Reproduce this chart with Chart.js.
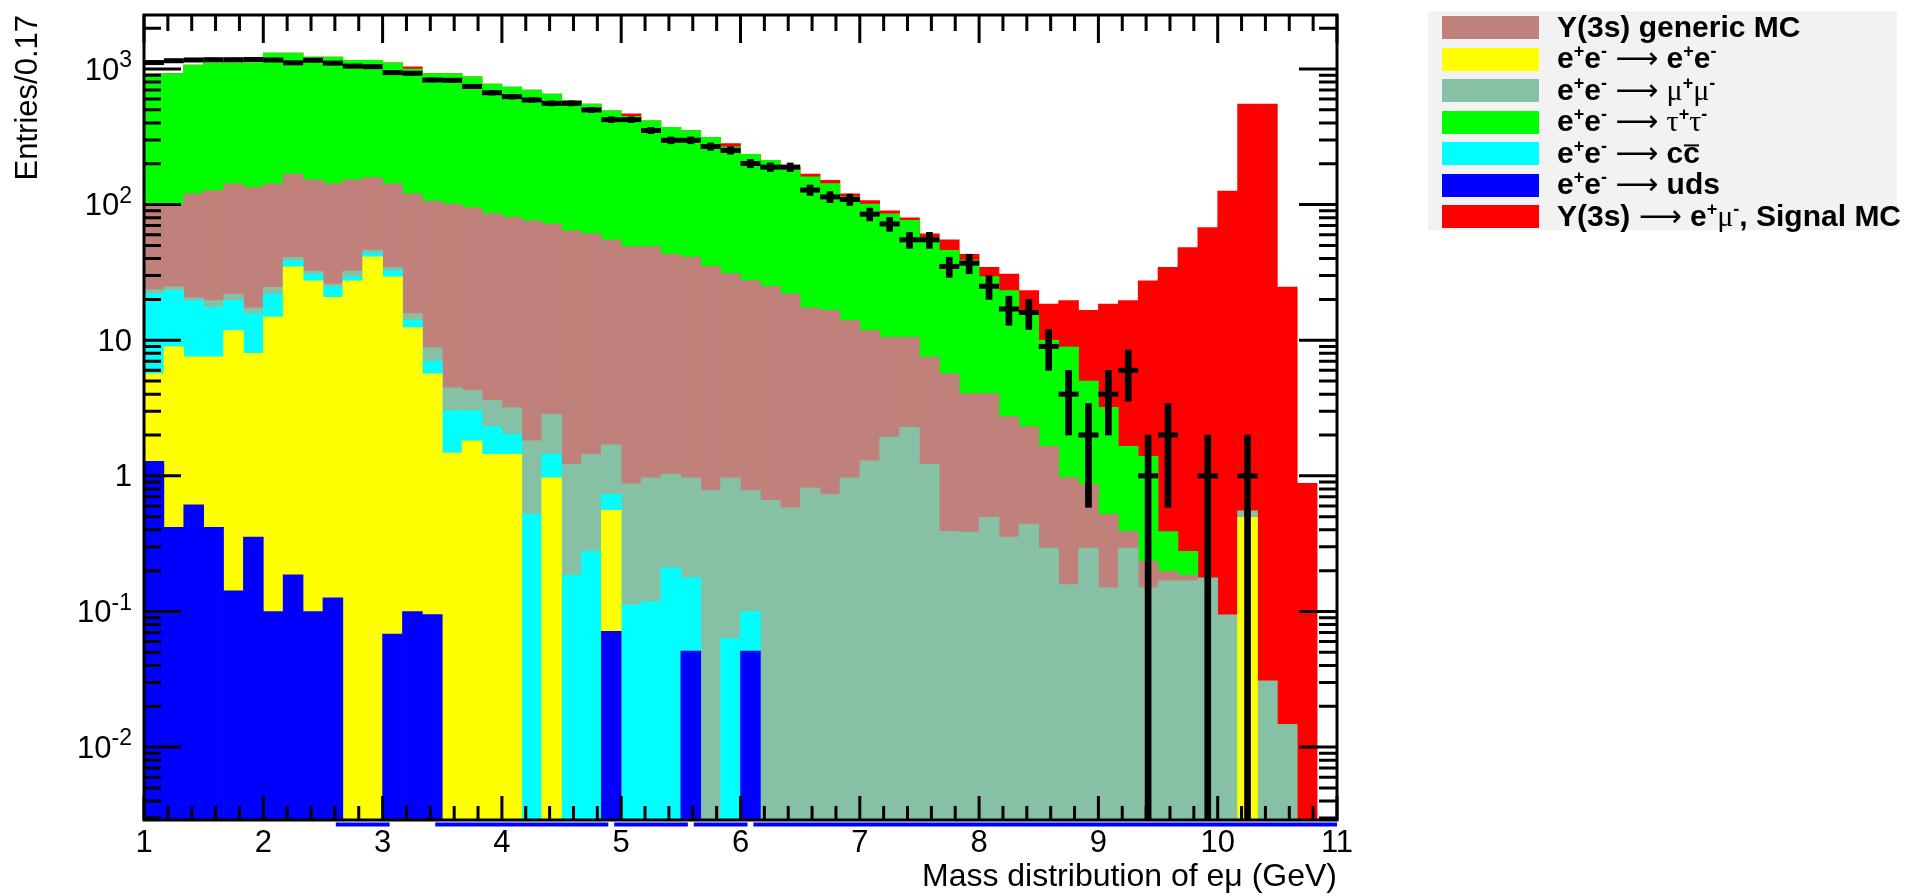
<!DOCTYPE html>
<html>
<head>
<meta charset="utf-8">
<script src="https://cdn.jsdelivr.net/npm/chart.js@4.4.1/dist/chart.umd.min.js"></script>
<style>
  body { margin: 0; background: #fff; }
  #marco { position: relative; width: 1906px; height: 896px; }
  #leyenda {
    position: absolute; left: 1428px; top: 11px; width: 469px; height: 219px;
    background: #f2f2f2;
    font: bold 30px "Liberation Sans", Arial, sans-serif; color: #000;
  }
  .fila { position: absolute; left: 14px; height: 23px; width: 450px; }
  .caja { position: absolute; left: 0; top: 0; width: 97px; height: 23px; }
  .txt  { position: absolute; left: 115px; top: 50%; transform: translateY(-52%);
          white-space: nowrap; line-height: 1; }
  .txt sup { font-size: 0.6em; vertical-align: 0.62em; line-height: 0; }
  .fl { font-family: "DejaVu Sans", sans-serif; font-weight: normal; }
  .gr { font-family: "Liberation Serif", serif; font-weight: normal; }
  .bar { display: inline-block; position: relative; }
  .bar::after { content: ''; position: absolute; left: 1px; right: 1px; top: 0.22em;
                border-top: 2px solid #000; }
</style>
</head>
<body>
<div id="marco">
  <canvas id="grafica"></canvas>
  <div id="leyenda"></div>
</div>
<script>
// ── Binning: 60 bins de 1/6 GeV entre 1 y 11 ─────────────────────
const binInicio = 1, binFin = 11, numBins = 60;
const anchoBin  = (binFin - binInicio) / numBins;
const centrosBin = [];
for (let k = 0; k < numBins; k++) centrosBin.push(binInicio + (k + 0.5) * anchoBin);

// ── Datos (puntos negros), un valor por bin ──────────────────────
const cuentasDatos = [
  1115, 1150, 1165, 1170, 1170, 1175, 1165, 1110, 1160, 1105,
  1050, 1040,  940,  930,  830,  825,  743,  668,  625,  591,
   558,  558,  499,  423,  423,  352,  298,  298,  268,  251,
   201,  189,  189,  128,  114,  109,   85,   72,   55,   55,
    35,   37,   25,   17,   16,    9,    4,    2,    4,    6,
     1,    2,    0,    1,    0,    1,    0,    0,    0,    0
];

// ── THStack: altura acumulada de cada capa (como la dibuja ROOT) ──
const pilaSenal = [
   920,  925, 1070, 1110, 1110, 1110, 1309, 1309, 1224, 1224,
  1157, 1157, 1110, 1035,  925,  925,  875,  773,  735,  699,
   653,  584,  552,  491,  467,  415,  371,  351,  313,  282,
   235,  212,  189,  168,  151,  120,  107,   90,   80,   61,
    55,   43, 34.5, 30.7, 23.2, 18.5, 19.6, 16.6, 18.5, 19.6,
  27.4, 34.5, 48.3, 67.6,  126,  552,  552, 24.6, 0.88,    0
];
const pilaTauTau = [
   920,  925, 1070, 1110, 1110, 1110, 1309, 1309, 1224, 1224,
  1157, 1157, 1110,  998,  925,  925,  875,  773,  735,  699,
   653,  584,  552,  491,  447,  415,  371,  351,  313,  267,
   235,  212,  189,  160,  143,  114,  101, 85.5, 76.4,   57,
    46,   39, 29.5, 23.2, 16.6,   10,  8.9,  5.0,  3.2, 1.65,
  1.39, 0.388, 0.277,  0,    0,    0,    0,    0,    0,    0
];
const pilaGenerico = [
    99,   99,  120,  127,  142,  134,  142,  168,  152,  143,
   152,  158,  142,  120,  106,  101,   95,   86,   81,   76,
    72,   64,   61,   55,   49,   49,   43,   41,   35,   31,
  27.5,   25,   22, 17.3, 16.6,   14, 11.8, 10.5, 10.5,  7.5,
  5.65, 4.04, 4.04, 2.73, 2.31, 1.65, 0.97, 0.865, 0.52, 0.39,
  0.234, 0.198, 0.185, 0,   0,    0,    0,    0,    0,    0
];
const pilaMuMu = [
  23.5, 24.8, 20.5, 19.6, 21.9, 17.3, 24.5, 40.8, 32.4, 25.9,
  32.4, 46.2, 34.5, 15.7, 8.84, 4.46, 4.27,  3.6, 3.19, 1.81,
  2.84, 1.22, 1.44, 1.69, 0.874, 0.967, 1.03, 0.967, 0.782, 0.967,
  0.782, 0.66, 0.584, 0.817, 0.73, 0.967, 1.29, 1.93, 2.28, 1.22,
  0.39, 0.385, 0.494, 0.353, 0.441, 0.293, 0.158, 0.293, 0.15, 0.293,
  0.15, 0.168, 0.168, 0.177, 0.0946, 0.552, 0.0308, 0.0147, 0, 0
];
const pilaCC = [
  22.1, 23.2, 19.6, 17.5, 19.6, 15.7, 21.9, 38.6, 30.7, 24.8,
  29.3, 43.7, 32.6, 14.0, 6.99, 3.02, 3.02, 2.31, 2.03, 0.522,
  1.44, 0.185, 0.277, 0.73, 0.112, 0.118, 0.21, 0.177, 0, 0.063,
  0.1,  0, 0, 0, 0, 0, 0, 0, 0, 0,
  0, 0, 0, 0, 0, 0, 0, 0, 0, 0,
  0, 0, 0, 0, 0, 0, 0, 0, 0, 0
];
const pilaEE = [
  5.65, 8.94, 7.55, 7.55, 11.8,  8.0, 14.8, 34.7, 27.4, 20.7,
  27.4, 41.2, 29.3, 12.4, 5.65, 1.47, 1.81, 1.44, 1.44,    0,
  0.967, 0, 0, 0.556, 0, 0, 0, 0, 0, 0,
  0, 0, 0, 0, 0, 0, 0, 0, 0, 0,
  0, 0, 0, 0, 0, 0, 0, 0, 0, 0,
  0, 0, 0, 0, 0, 0.494, 0, 0, 0, 0
];
const pilaUds = [
  1.28, 0.417, 0.611, 0.417, 0.142, 0.353, 0.1, 0.186, 0.1, 0.126,
  0, 0, 0.068, 0.1, 0.095, 0, 0, 0, 0, 0,
  0, 0, 0, 0.0715, 0, 0, 0, 0.051, 0, 0,
  0.051, 0, 0, 0, 0, 0, 0, 0, 0, 0,
  0, 0, 0, 0, 0, 0, 0, 0, 0, 0,
  0, 0, 0, 0, 0, 0, 0, 0, 0, 0
];

// ── Ejes y leyenda ───────────────────────────────────────────────
const ticksY     = [0.01, 0.1, 1, 10, 100, 1000];
const etiquetasY = [['10', '-2'], ['10', '-1'], ['1', ''], ['10', ''], ['10', '2'], ['10', '3']];

const leyendaTextos = [
  'Y(3s) generic MC',
  'e<sup>+</sup>e<sup>-</sup> <span class="fl">&#x27F6;</span> e<sup>+</sup>e<sup>-</sup>',
  'e<sup>+</sup>e<sup>-</sup> <span class="fl">&#x27F6;</span> <span class="gr">&mu;</span><sup>+</sup><span class="gr">&mu;</span><sup>-</sup>',
  'e<sup>+</sup>e<sup>-</sup> <span class="fl">&#x27F6;</span> <span class="gr">&tau;</span><sup>+</sup><span class="gr">&tau;</span><sup>-</sup>',
  'e<sup>+</sup>e<sup>-</sup> <span class="fl">&#x27F6;</span> c<span class="bar">c</span>',
  'e<sup>+</sup>e<sup>-</sup> <span class="fl">&#x27F6;</span> uds',
  'Y(3s) <span class="fl">&#x27F6;</span> e<sup>+</sup><span class="gr">&mu;</span><sup>-</sup>, Signal MC'
];
const colores = {
  generico: '#c0817a', ee: '#ffff00', mumu: '#86c1a5', tautau: '#00ff00',
  cc: '#00ffff', uds: '#0000ff', senal: '#ff0000'
};
const leyendaColores = [colores.generico, colores.ee, colores.mumu, colores.tautau,
                        colores.cc, colores.uds, colores.senal];

// ── Leyenda HTML ─────────────────────────────────────────────────
const cajaLeyenda = document.getElementById('leyenda');
leyendaTextos.forEach(function(txt, i) {
  const fila = document.createElement('div');
  fila.className = 'fila';
  fila.style.top = (5 + i * 31.55) + 'px';
  fila.innerHTML = '<div class="caja" style="background:' + leyendaColores[i] + '"></div>' +
                   '<div class="txt">' + txt + '</div>';
  cajaLeyenda.appendChild(fila);
});

// ── Datasets ─────────────────────────────────────────────────────
function histo(nombre, valores, color) {
  return {
    type: 'bar', label: nombre, grouped: false,
    data: valores.map((v, k) => ({ x: centrosBin[k], y: v })),
    backgroundColor: color, borderWidth: 0,
    categoryPercentage: 1.0, barPercentage: 1.0
  };
}

// error de Poisson; la escala log no acepta 0, así que el extremo
// inferior de N=1 baja por debajo del mínimo del eje (queda recortado)
const puntosDatos = [], barrasError = [];
cuentasDatos.forEach(function(n, k) {
  if (n <= 0) return;
  const err = Math.sqrt(n);
  puntosDatos.push({ x: centrosBin[k], y: n });
  barrasError.push({ x: centrosBin[k], y: [Math.max(n - err, 1e-4), n + err] });
});

// ── Marco estilo ROOT: ticks hacia dentro, etiquetas Y, línea uds ─
const marcoRoot = {
  id: 'marcoRoot',
  afterDatasetsDraw(chart) {
    const { ctx, chartArea: a, scales: { x, y } } = chart;
    ctx.save();

    // línea azul bajo el eje donde uds está vacío
    ctx.fillStyle = colores.uds;
    let k = 0;
    while (k < numBins) {
      if (pilaUds[k] > 0) { k++; continue; }
      let j = k;
      while (j < numBins && pilaUds[j] <= 0) j++;
      const x0 = Math.max(a.left, x.getPixelForValue(binInicio + k * anchoBin) - 7);
      const x1 = Math.min(a.right, x.getPixelForValue(binInicio + j * anchoBin) + 7);
      ctx.fillRect(x0, a.bottom + 2.5, x1 - x0, 4);
      k = j;
    }

    ctx.strokeStyle = '#000';
    ctx.lineWidth = 3;
    ctx.strokeRect(a.left, a.top, a.right - a.left, a.bottom - a.top);

    ctx.beginPath();
    for (let i = 0; i <= 50; i++) {
      const px = x.getPixelForValue(binInicio + i * 0.2);
      const mayor = i % 5 === 0;
      ctx.moveTo(px, a.bottom); ctx.lineTo(px, a.bottom - (mayor ? 24 : 14));
      ctx.moveTo(px, a.top);    ctx.lineTo(px, a.top + (mayor ? 28 : 16));
    }
    for (let e = -3; e <= 3; e++) {
      for (let m = 1; m <= 9; m++) {
        const v = m * Math.pow(10, e);
        if (v < y.min || v > y.max) continue;
        const py = y.getPixelForValue(v);
        const mayor = m === 1;
        ctx.moveTo(a.left, py);  ctx.lineTo(a.left + (mayor ? 37 : 17), py);
        ctx.moveTo(a.right, py); ctx.lineTo(a.right - (mayor ? 38 : 18), py);
      }
    }
    ctx.stroke();

    // etiquetas 10^n con exponente
    ctx.fillStyle = '#000';
    ctx.textBaseline = 'middle';
    ctx.textAlign = 'right';
    const derecha = a.left - 12;
    ticksY.forEach(function(v, i) {
      const py = y.getPixelForValue(v) + 2;
      const base = etiquetasY[i][0], expo = etiquetasY[i][1];
      ctx.font = '23px "Liberation Sans", Arial, sans-serif';
      const wExpo = expo ? ctx.measureText(expo).width : 0;
      if (expo) ctx.fillText(expo, derecha, py - 10);
      ctx.font = '31px "Liberation Sans", Arial, sans-serif';
      ctx.fillText(base, derecha - wExpo, py);
    });
    ctx.restore();
  }
};

// ── Gráfica ──────────────────────────────────────────────────────
const fuente = '"Liberation Sans", Arial, sans-serif';
new Chart(document.getElementById('grafica'), {
  type: 'bar',
  data: {
    datasets: [
      {
        type: 'line', label: 'datos', data: puntosDatos, showLine: false,
        pointStyle: 'line', pointRadius: 10, pointHoverRadius: 10,
        pointBorderWidth: 5, pointBorderColor: '#000', borderColor: '#000'
      },
      {
        type: 'bar', label: 'errores', data: barrasError, grouped: false,
        backgroundColor: '#000', barThickness: 6, borderWidth: 0
      },
      histo('uds',      pilaUds,      colores.uds),
      histo('ee',       pilaEE,       colores.ee),
      histo('cc',       pilaCC,       colores.cc),
      histo('mumu',     pilaMuMu,     colores.mumu),
      histo('generico', pilaGenerico, colores.generico),
      histo('tautau',   pilaTauTau,   colores.tautau),
      histo('senal',    pilaSenal,    colores.senal)
    ]
  },
  options: {
    responsive: true,
    maintainAspectRatio: false,
    animation: false,
    layout: { padding: { left: 0, right: 569, top: 7, bottom: 0 } },
    plugins: { legend: { display: false }, tooltip: { enabled: false } },
    scales: {
      x: {
        type: 'linear', min: binInicio, max: binFin, offset: false,
        grid: { display: false, drawTicks: false }, border: { display: false },
        ticks: { stepSize: 1, autoSkip: false, maxRotation: 0, padding: 5,
                 color: '#000', font: { family: fuente, size: 31 } },
        title: { display: true, text: 'Mass distribution of eμ (GeV)', align: 'end',
                 color: '#000', font: { family: fuente, size: 32 },
                 padding: { top: 0, bottom: 0 } },
        afterFit: function(s) { s.height = 76; }
      },
      y: {
        type: 'logarithmic', min: 0.0029, max: 2500,
        grid: { display: false, drawTicks: false }, border: { display: false },
        ticks: { display: false },
        title: { display: true, text: 'Entries/0.17', align: 'end',
                 color: '#000', font: { family: fuente, size: 31 },
                 padding: { top: 10, bottom: 0 } },
        afterFit: function(s) { s.width = 144; }
      }
    }
  },
  plugins: [marcoRoot]
});
</script>
</body>
</html>
